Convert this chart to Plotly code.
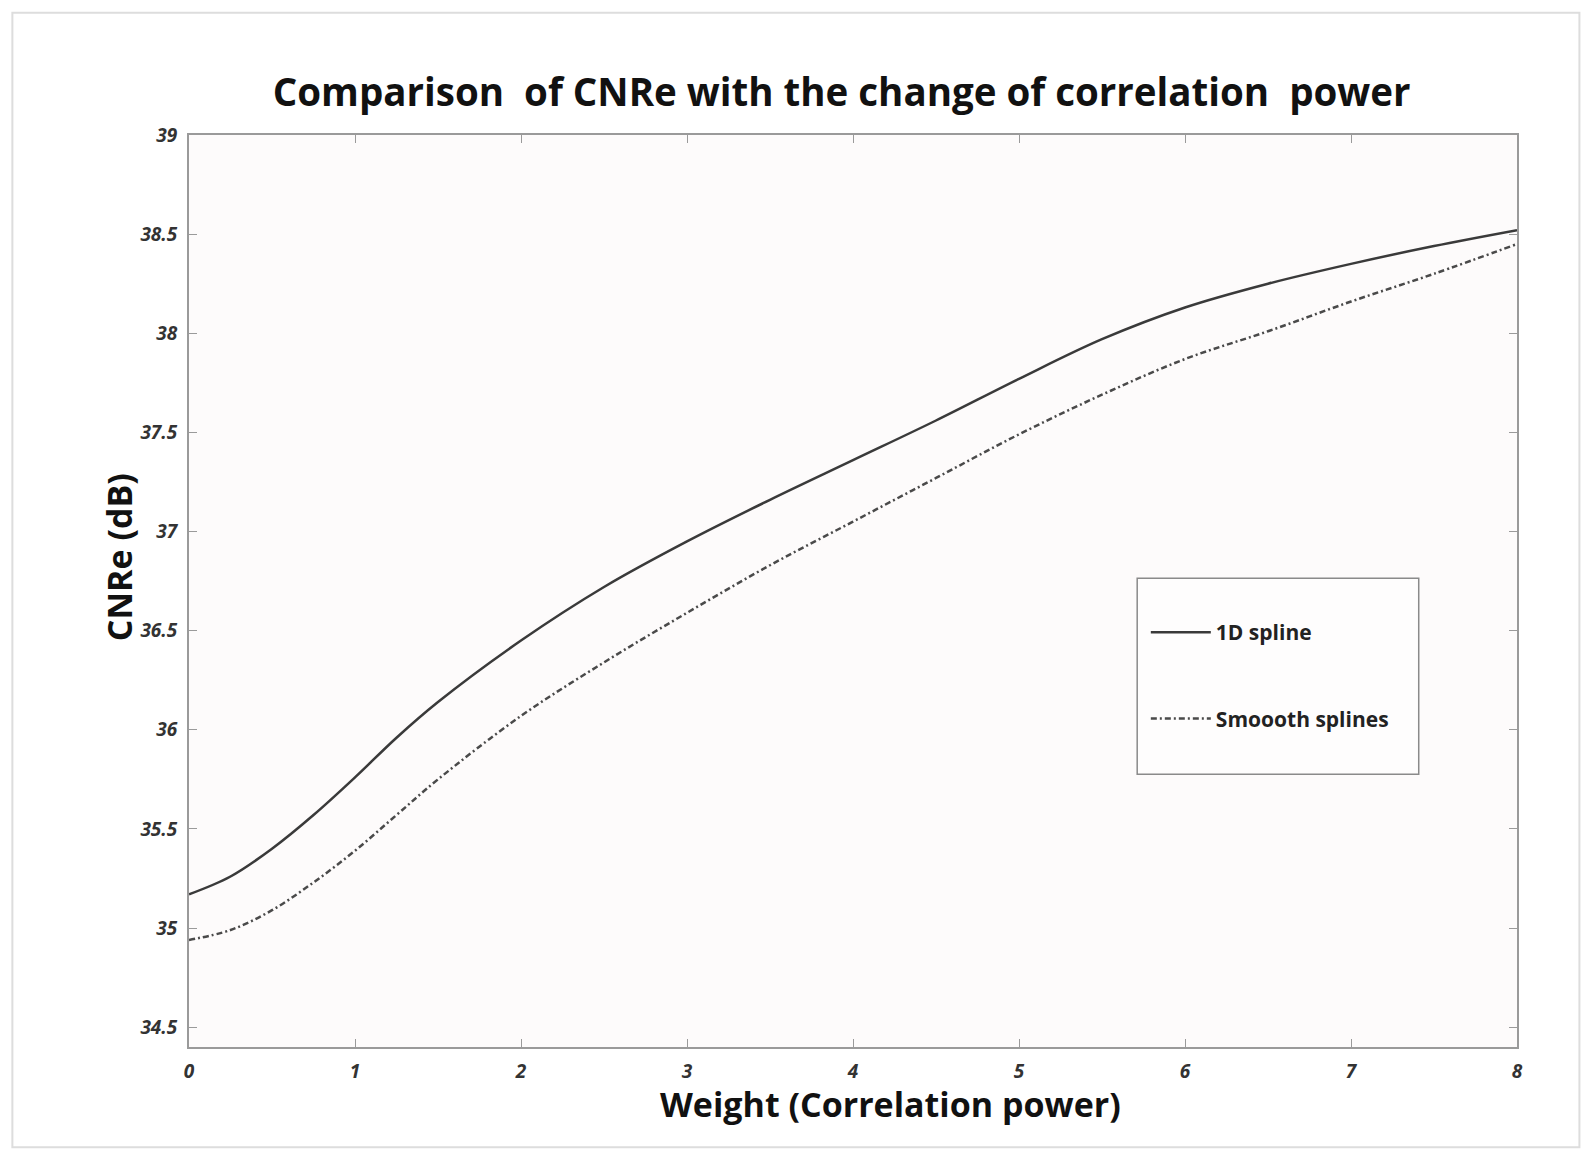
import plotly.graph_objects as go

# Correlation-power weight (x) and CNRe values in dB for the two interpolation methods
weight = [0, 0.25, 0.5, 0.75, 1, 1.25, 1.5, 2, 2.5, 3, 3.5, 4, 4.5, 5, 5.5, 6, 6.5, 7, 7.5, 8]
cnre_1d_spline = [35.17, 35.26, 35.40, 35.57, 35.76, 35.96, 36.14, 36.45, 36.72, 36.95,
                  37.16, 37.36, 37.56, 37.77, 37.97, 38.13, 38.25, 38.35, 38.44, 38.52]
cnre_smooth = [34.94, 34.99, 35.09, 35.23, 35.39, 35.57, 35.75, 36.07, 36.34, 36.59,
               36.83, 37.05, 37.27, 37.49, 37.69, 37.87, 38.01, 38.16, 38.30, 38.45]

series_names = ["1D spline", "Smoooth splines"]
x_ticks = [0, 1, 2, 3, 4, 5, 6, 7, 8]
y_ticks = [34.5, 35, 35.5, 36, 36.5, 37, 37.5, 38, 38.5, 39]

title_text = "Comparison  of CNRe with the change of correlation  power"
x_title = "Weight (Correlation power)"
y_title = "CNRe (dB)"

fig = go.Figure()
fig.add_trace(go.Scatter(
    x=weight, y=cnre_1d_spline, name=series_names[0], mode="lines",
    line=dict(color="#3a3a3a", width=2.5, shape="spline", smoothing=1.0),
    legendgroup="a",
))
fig.add_trace(go.Scatter(
    x=weight, y=cnre_smooth, name=series_names[1], mode="lines",
    line=dict(color="#4a4a4a", width=2.5, shape="spline", smoothing=1.0,
              dash="6px,3px,2px,3px"),
    legendgroup="b",
))

tick_font = dict(family="Open Sans", size=19, color="#333333", weight="bold", style="italic")
axis_common = dict(
    showgrid=False, zeroline=False, showline=True, linecolor="#9a9a9a", linewidth=2,
    mirror="ticks", ticks="inside", ticklen=8, tickwidth=1, tickcolor="#9a9a9a",
    tickfont=tick_font, ticklabelstandoff=6,
)

fig.update_layout(
    width=1591, height=1156,
    margin=dict(l=189, r=74, t=135, b=109),
    paper_bgcolor="#ffffff",
    plot_bgcolor="#fdfbfb",
    showlegend=True,
    title=dict(
        text=title_text, x=0.529, xanchor="center", y=0.920, yanchor="middle",
        font=dict(family="Open Sans", size=38.5, color="#111111", weight="bold"),
    ),
    xaxis=dict(range=[0, 8], tickvals=x_ticks, ticktext=[str(t) for t in x_ticks],
               **axis_common),
    yaxis=dict(range=[34.4, 39.0], tickvals=y_ticks, ticktext=[f"{t:g}" for t in y_ticks],
               **axis_common),
    legend=dict(
        x=0.7205, y=0.477, xanchor="left", yanchor="top",
        bgcolor="rgba(0,0,0,0)", borderwidth=0,
        font=dict(family="Open Sans", size=21, color="#222222", weight="bold"),
        traceorder="grouped", tracegroupgap=56, itemwidth=60,
    ),
    annotations=[
        dict(text=x_title, xref="paper", yref="paper", x=0.5286, y=-0.0625,
             xanchor="center", yanchor="middle", showarrow=False,
             font=dict(family="Open Sans", size=34, color="#111111", weight="bold")),
        dict(text=y_title, xref="paper", yref="paper", x=-0.0527, y=0.537,
             xanchor="center", yanchor="middle", showarrow=False, textangle=-90,
             font=dict(family="Open Sans", size=34, color="#111111", weight="bold")),
    ],
    shapes=[
        # legend frame
        dict(type="rect", xref="paper", yref="paper", x0=0.714, x1=0.926, y0=0.299, y1=0.514,
             line=dict(color="#8a8a8a", width=1.5), fillcolor="rgba(255,255,255,0.6)",
             layer="below"),
        # outer figure frame
        dict(type="rect", xref="paper", yref="paper", x0=-0.133, x1=1.047, y0=-0.110, y1=1.134,
             line=dict(color="#dddddd", width=2), layer="below"),
    ],
)

fig.write_html("out.html")
